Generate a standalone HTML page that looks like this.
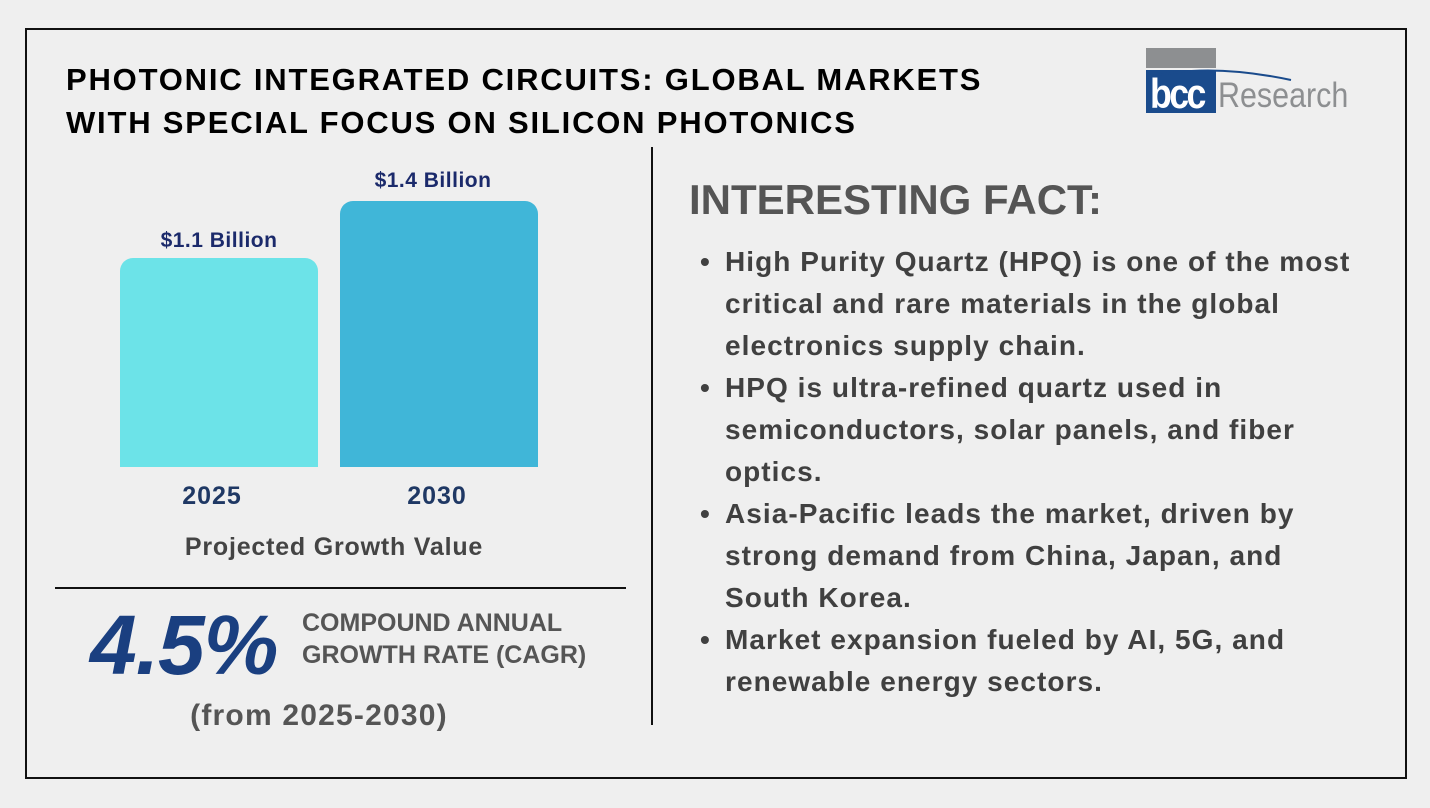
<!DOCTYPE html>
<html><head><style>
body{margin:0;width:1430px;height:808px;background:#efefef;position:relative;overflow:hidden;font-family:"Liberation Sans",sans-serif;font-weight:bold}
.a{position:absolute;white-space:nowrap}
.c{text-align:center}
.li{position:relative;padding-left:25px}
.li b{position:absolute;left:0;top:0}
</style></head><body>
<div class="a" style="left:25px;top:28px;width:1378px;height:747px;border:2px solid #111"></div>
<div class="a" style="left:66px;top:58px;font-size:31px;line-height:43px;color:#000;letter-spacing:1.8px">PHOTONIC INTEGRATED CIRCUITS: GLOBAL MARKETS<br>WITH SPECIAL FOCUS ON SILICON PHOTONICS</div>
<!-- logo -->
<div class="a" style="left:1146px;top:48px;width:70px;height:20px;background:#8d8f91"></div>
<div class="a" style="left:1146px;top:70px;width:70px;height:43px;background:#1a4b8c"></div>
<svg class="a" style="left:1146px;top:62px" width="150" height="30"><path d="M0 16 Q60 0 145 18" stroke="#1a4b8c" stroke-width="2" fill="none"/></svg>
<div class="a" style="left:1150px;top:72px;font-size:42px;line-height:44px;color:#fff;letter-spacing:-3px;transform:scaleX(0.85);transform-origin:left">bcc</div>
<div class="a" style="left:1218px;top:76px;font-size:35px;line-height:40px;color:#8d8f91;font-weight:normal;transform:scaleX(0.87);transform-origin:left">Research</div>
<!-- bars -->
<div class="a" style="left:120px;top:258px;width:198px;height:209px;background:#6ce3e8;border-radius:13px 13px 0 0"></div>
<div class="a" style="left:340px;top:201px;width:198px;height:266px;background:#40b6d8;border-radius:13px 13px 0 0"></div>
<div class="a c" style="left:120px;top:229px;width:198px;font-size:21px;letter-spacing:0.5px;color:#1b2a6b">$1.1 Billion</div>
<div class="a c" style="left:334px;top:169px;width:198px;font-size:21px;letter-spacing:0.5px;color:#1b2a6b">$1.4 Billion</div>
<div class="a c" style="left:112px;top:482px;width:200px;font-size:25px;letter-spacing:1px;color:#1f3864">2025</div>
<div class="a c" style="left:337px;top:482px;width:200px;font-size:25px;letter-spacing:1px;color:#1f3864">2030</div>
<div class="a c" style="left:134px;top:533px;width:400px;font-size:25px;letter-spacing:0.8px;color:#444">Projected Growth Value</div>
<div class="a" style="left:55px;top:587px;width:571px;height:2px;background:#111"></div>
<div class="a" style="left:651px;top:147px;width:2px;height:578px;background:#111"></div>
<div class="a" style="left:90px;top:598px;font-size:84px;line-height:94px;font-style:italic;color:#1a3f80;letter-spacing:-1px">4.5%</div>
<div class="a" style="left:302px;top:607px;font-size:25px;line-height:32px;letter-spacing:0px;color:#555">COMPOUND ANNUAL<br>GROWTH RATE (CAGR)</div>
<div class="a c" style="left:119px;top:699px;width:400px;font-size:30px;letter-spacing:1.2px;color:#555">(from 2025-2030)</div>
<!-- right -->
<div class="a" style="left:689px;top:176px;font-size:42px;color:#555">INTERESTING FACT:</div>
<div class="a" style="left:700px;top:241px;font-size:28px;line-height:42px;letter-spacing:1.05px;color:#404040">
<div class="li"><b>•</b>High Purity Quartz (HPQ) is one of the most<br>critical and rare materials in the global<br>electronics supply chain.</div>
<div class="li"><b>•</b>HPQ is ultra-refined quartz used in<br>semiconductors, solar panels, and fiber<br>optics.</div>
<div class="li"><b>•</b>Asia-Pacific leads the market, driven by<br>strong demand from China, Japan, and<br>South Korea.</div>
<div class="li"><b>•</b>Market expansion fueled by AI, 5G, and<br>renewable energy sectors.</div>
</div>
</body></html>
